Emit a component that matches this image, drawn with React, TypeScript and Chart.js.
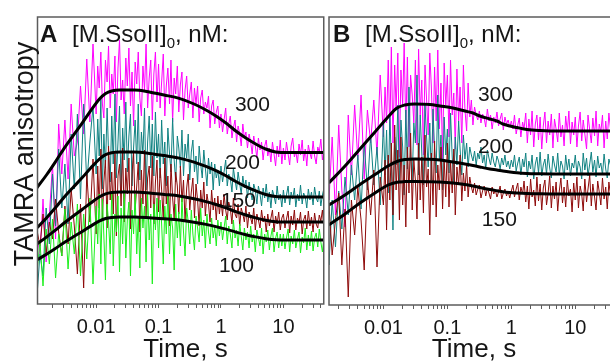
import React, { useEffect, useRef } from "react";
import { Chart, registerables } from "chart.js";

Chart.register(...registerables);

// ---------- data ----------
// time grid of the recorded traces, s
const TIME = [
  0.00112, 0.00126, 0.00141, 0.00158, 0.00178, 0.002, 0.00224, 0.00251, 0.00282, 0.00316,
  0.00355, 0.00398, 0.00447, 0.00501, 0.00562, 0.00631, 0.00708, 0.00794, 0.00891,
  0.01, 0.0106, 0.0112, 0.0119, 0.0126, 0.0133, 0.0141, 0.015, 0.0158, 0.0168,
  0.0178, 0.0188, 0.02, 0.0211, 0.0224, 0.0237, 0.0251, 0.0266, 0.0282, 0.0299,
  0.0316, 0.0335, 0.0355, 0.0376, 0.0398, 0.0422, 0.0447, 0.0473, 0.0501, 0.0531,
  0.0562, 0.0596, 0.0631, 0.0668, 0.0708, 0.075, 0.0794, 0.0841, 0.0891, 0.0944,
  0.1, 0.106, 0.112, 0.119, 0.126, 0.133, 0.141, 0.15, 0.158, 0.168,
  0.178, 0.188, 0.2, 0.211, 0.224, 0.237, 0.251, 0.266, 0.282, 0.299,
  0.316, 0.335, 0.355, 0.376, 0.398, 0.422, 0.447, 0.473, 0.501, 0.531,
  0.562, 0.596, 0.631, 0.668, 0.708, 0.75, 0.794, 0.841, 0.891, 0.944,
  1, 1.06, 1.12, 1.19, 1.26, 1.33, 1.41, 1.5, 1.58, 1.68,
  1.78, 1.88, 2, 2.11, 2.24, 2.37, 2.51, 2.66, 2.82, 2.99,
  3.16, 3.35, 3.55, 3.76, 3.98, 4.22, 4.47, 4.73, 5.01, 5.31,
  5.62, 5.96, 6.31, 6.68, 7.08, 7.5, 7.94, 8.41, 8.91, 9.44,
  10, 10.6, 11.2, 11.9, 12.6, 13.3, 14.1, 15, 15.8, 16.8,
  17.8, 18.8, 20, 21.1, 22.4, 23.7, 25.1, 26.6, 28.2, 29.9,
  31.6, 33.5, 35.5, 37.6, 39.8, 42.2, 44.7, 47.3, 50.1,
];

// TAMRA anisotropy, milli-units. Panel A
const A_300 = [
  170, 150, 205, 142, 188, 240, 165, 280, 230, 284, 225, 300, 248, 262, 318, 270, 345, 282, 360,
  290, 338, 316, 352, 300, 286, 344, 322, 358, 296,
  330, 310, 348, 282, 336, 364, 304, 324, 290, 346,
  318, 356, 298, 332, 278, 342, 320, 352, 306, 288,
  338, 314, 360, 296, 326, 344, 284, 330, 352, 302,
  340, 296, 322, 350, 288, 318, 336, 300, 344, 282,
  326, 310, 338, 292, 320, 332, 284, 314, 328, 296,
  310, 322, 286, 316, 300, 318, 282, 306, 314, 290,
  302, 296, 308, 276, 298, 304, 280, 292, 298, 276,
  290, 272, 284, 296, 270, 280, 288, 266, 276, 284,
  262, 278, 270, 258, 280, 266, 272, 256, 270, 262,
  250, 268, 258, 246, 266, 254, 262, 244, 258, 264,
  248, 256, 242, 262, 250, 238, 258, 247, 264, 240,
  256, 244, 262, 250, 239, 258, 266, 247, 253, 241,
  260, 249, 264, 243, 255, 238, 259, 251, 245, 263,
  248, 240, 257, 252, 265, 244, 256, 242, 254,
];
const A_200 = [
  105, 150, 128, 196, 160, 230, 178, 255, 196, 240, 180, 270, 215, 290, 205, 300, 220, 262, 298,
  230, 285, 248, 305, 215, 270, 236, 296, 252, 222,
  288, 240, 310, 226, 262, 298, 210, 276, 244, 302,
  232, 268, 290, 218, 256, 284, 240, 300, 224, 272,
  250, 296, 214, 262, 288, 236, 280, 228, 292, 246,
  270, 226, 284, 240, 262, 218, 276, 250, 232, 286,
  244, 222, 268, 256, 236, 274, 228, 260, 246, 270,
  224, 252, 264, 232, 248, 220, 258, 240, 226, 254,
  236, 218, 246, 230, 242, 214, 240, 226, 234, 218,
  238, 222, 232, 244, 218, 230, 226, 212, 236, 224,
  214, 232, 220, 210, 228, 216, 224, 206, 222, 212,
  204, 220, 214, 200, 218, 210, 198, 216, 206, 220,
  202, 212, 196, 214, 208, 200, 218, 204, 210, 197,
  214, 201, 209, 218, 199, 212, 205, 216, 197, 210,
  203, 219, 200, 211, 207, 196, 215, 204, 212, 199,
  217, 206, 202, 213, 198, 209, 216, 201, 208,
];
const A_150 = [
  175, 158, 190, 150, 182, 165, 205, 172, 148, 198, 160, 215, 178, 130, 200, 116, 230, 182, 245,
  170, 238, 196, 255, 185, 222, 244, 176, 258, 204,
  232, 190, 250, 168, 228, 240, 198, 256, 182, 236,
  210, 246, 175, 230, 252, 194, 218, 242, 172, 234,
  200, 254, 186, 226, 238, 196, 248, 180, 222, 244,
  192, 236, 214, 184, 246, 200, 228, 178, 240, 206,
  186, 232, 218, 190, 238, 202, 224, 182, 216, 230,
  194, 212, 226, 186, 220, 204, 178, 214, 196, 222,
  188, 210, 200, 182, 214, 194, 206, 184, 208, 190,
  204, 188, 210, 194, 184, 202, 196, 180, 206, 190,
  186, 200, 178, 196, 190, 182, 198, 176, 192, 186,
  180, 196, 174, 190, 184, 176, 194, 182, 188, 172,
  190, 178, 186, 194, 172, 188, 180, 192, 174, 186,
  190, 176, 185, 193, 171, 188, 179, 194, 174, 186,
  181, 192, 170, 184, 189, 175, 193, 178, 187, 172,
  191, 180, 176, 189, 183, 194, 173, 186, 179,
];
const A_100 = [
  130, 162, 118, 175, 140, 185, 126, 170, 148, 195, 135, 182, 150, 200, 128, 190, 145, 206, 120,
  198, 160, 210, 140, 205, 168, 124, 200, 182, 150,
  212, 138, 190, 172, 208, 132, 196, 160, 214, 146,
  184, 202, 128, 194, 170, 210, 150, 188, 136, 206,
  176, 198, 142, 212, 164, 190, 120, 200, 174, 206,
  156, 204, 180, 140, 198, 170, 210, 150, 190, 176,
  134, 200, 166, 192, 158, 206, 172, 148, 196, 182,
  160, 194, 170, 154, 188, 176, 162, 196, 168, 184,
  156, 190, 172, 160, 186, 166, 178, 158, 184, 168,
  182, 164, 176, 188, 160, 178, 170, 156, 184, 166,
  174, 158, 180, 168, 154, 176, 164, 172, 156, 178,
  162, 170, 152, 174, 166, 158, 176, 150, 170, 162,
  174, 154, 168, 176, 152, 166, 172, 156, 170, 158,
  170, 155, 166, 175, 152, 168, 160, 174, 156, 165,
  172, 151, 167, 161, 176, 154, 169, 158, 173, 153,
  166, 171, 157, 175, 162, 152, 168, 174, 159,
];

// Panel B
const B_300 = [
  200, 240, 205, 268, 190, 280, 215, 178, 290, 230, 300, 245, 310, 226, 295, 262, 305, 250, 330,
  268, 318, 282, 345, 270, 358, 262, 340, 296, 352,
  248, 335, 300, 362, 275, 348, 258, 330, 310, 282,
  345, 260, 356, 290, 325, 250, 340, 305, 270, 352,
  318, 262, 338, 284, 355, 276, 322, 246, 342, 300,
  330, 268, 345, 290, 312, 256, 336, 284, 318, 262,
  340, 296, 274, 322, 288, 305, 280, 298, 290, 285,
  294, 282, 291, 287, 278, 296, 284, 290, 276, 288,
  282, 293, 279, 286, 292, 275, 288, 281, 285, 278,
  284, 276, 290, 271, 280, 287, 268, 283, 276, 292,
  262, 286, 270, 294, 258, 281, 290, 265, 288, 256,
  279, 293, 262, 284, 270, 291, 257, 286, 276, 263,
  292, 268, 280, 259, 289, 273, 294, 261, 283, 270,
  288, 258, 279, 293, 264, 285, 271, 256, 290, 275,
  262, 287, 269, 294, 259, 281, 273, 290, 257, 284,
  266, 292, 276, 261, 288, 270, 283, 258, 279,
];
const B_200 = [
  150, 190, 140, 205, 158, 214, 176, 228, 190, 240, 205, 250, 196, 262, 215, 270, 220, 258, 200,
  282, 230, 275, 212, 290, 245, 175, 268, 240, 300,
  222, 285, 258, 210, 295, 236, 318, 248, 225, 282,
  262, 330, 230, 290, 252, 220, 300, 268, 238, 282,
  225, 296, 255, 232, 310, 244, 270, 215, 288, 250,
  276, 232, 292, 248, 222, 268, 240, 284, 256, 230,
  270, 246, 262, 238, 258, 250, 244, 254, 240, 252,
  246, 258, 242, 250, 236, 255, 247, 240, 252, 243,
  238, 249, 244, 236, 247, 240, 250, 238, 244, 236,
  245, 238, 250, 234, 242, 248, 230, 246, 238, 252,
  228, 244, 236, 250, 226, 241, 248, 232, 253, 229,
  240, 246, 231, 251, 237, 227, 249, 240, 233, 252,
  230, 244, 239, 226, 250, 235, 246, 229, 242, 237,
  250, 231, 244, 238, 226, 252, 235, 247, 229, 241,
  253, 233, 245, 228, 249, 237, 242, 230, 251, 236,
  227, 246, 240, 232, 250, 238, 244, 229, 241,
];
const B_150 = [
  190, 160, 200, 150, 185, 212, 140, 196, 108, 205, 170, 218, 185, 135, 226, 190, 235, 138, 228,
  200, 245, 175, 250, 205, 262, 190, 280, 215, 255,
  185, 268, 200, 240, 178, 258, 212, 272, 195, 245,
  225, 186, 262, 205, 248, 192, 270, 218, 236, 170,
  252, 200, 264, 188, 240, 215, 258, 196, 246, 208,
  262, 198, 244, 212, 256, 190, 238, 220, 250, 204,
  232, 214, 240, 208, 228, 218, 212, 222, 210, 216,
  220, 207, 214, 219, 209, 217, 212, 206, 218, 211,
  215, 208, 213, 219, 206, 212, 216, 209, 214, 207,
  214, 220, 208, 216, 222, 205, 218, 211, 224, 203,
  219, 196, 226, 208, 215, 199, 228, 204, 221, 195,
  217, 225, 200, 212, 229, 197, 219, 206, 223, 194,
  214, 227, 202, 218, 198, 225, 209, 216, 193, 222,
  205, 228, 197, 219, 211, 194, 226, 203, 216, 230,
  199, 221, 208, 195, 224, 213, 200, 227, 206, 218,
  196, 223, 210, 202, 229, 198, 215, 207, 220,
];

// fitted curves
const FIT_TIME_A = [
  0.00112, 0.0016, 0.0022, 0.003, 0.0042, 0.0059, 0.0082, 0.0114, 0.0142, 0.0177, 0.0237, 0.041, 0.071,
  0.123, 0.214, 0.37, 0.575, 0.83, 1.2, 1.73, 2.5, 3.6, 5.2, 7.5, 12, 50,
];
const FIT_A_300 = [216, 229, 241.7, 254.7, 267.7, 280.4, 293.3, 305.2, 310.5, 313, 314, 314, 312.1, 309, 305.6, 300, 294, 288, 281, 273, 266, 260, 255, 252.1, 251.5, 251.5];
const FIT_A_200 = [176, 186, 195.9, 206, 216.1, 225.9, 236, 245.2, 249.3, 251.2, 252, 252, 250.6, 248.4, 245.9, 241.9, 237.6, 233.3, 228.2, 222.5, 217.4, 213.1, 209.5, 207.4, 207, 207];
const FIT_A_150 = [160, 166.9, 173.6, 180.5, 187.5, 194.2, 201, 207.3, 210.1, 211.5, 212, 212, 211.1, 209.6, 208, 205.3, 202.4, 199.5, 196.2, 192.3, 189, 186.1, 183.7, 182.3, 182, 182];
const FIT_A_100 = [144, 149.7, 155.3, 161, 166.7, 172.3, 177.9, 183.1, 185.5, 186.6, 187, 187, 186.3, 185.2, 183.9, 181.8, 179.6, 177.4, 174.9, 171.9, 169.3, 167.1, 165.3, 164.2, 164, 164];

const FIT_TIME_B = [
  0.0014, 0.00251, 0.0043, 0.00738, 0.0118, 0.0163, 0.0217, 0.0311, 0.0534, 0.0765, 0.122, 0.188,
  0.251, 0.322, 0.462, 0.595, 0.738, 0.949, 1.22, 1.75, 2.79, 5.73, 50,
];
const FIT_B_300 = [222, 239, 256, 273, 288, 297, 300, 301, 300.5, 299, 297, 294, 292, 289, 286, 284, 281, 279, 277.5, 275.5, 274.5, 274, 274];
const FIT_B_200 = [200, 210, 220.5, 230.5, 239, 243.5, 245.5, 246, 245.8, 245, 243, 241, 239.5, 238, 236, 235, 234, 233, 232.2, 231.5, 231.2, 231, 231];
const FIT_B_150 = [180, 191, 202, 212, 220, 222.8, 223.4, 223.5, 223.3, 223, 222, 220.5, 219, 217.5, 215.5, 214.3, 213.3, 212.5, 212, 211.5, 211.2, 211, 211];

// axis tick labels
const TICK_VALUES = [0.01, 0.1, 1, 10];
const TICK_LABELS = ["0.01", "0.1", "1", "10"];

// concentration labels and their anchor (time, anisotropy)
const CONC_A = ["300", "200", "150", "100"];
const CONC_A_T = [1.67, 1.155, 0.997, 0.926];
const CONC_A_V = [293, 235, 197, 132];
const CONC_B = ["300", "200", "150"];
const CONC_B_T = [0.3, 0.3, 0.346];
const CONC_B_V = [304, 252, 179];

// ---------- styling / layout ----------
const FONT = '"Liberation Sans", Arial, Helvetica, sans-serif';
const TEXT = "#151515";
const C_MAG = "#ff00ff";
const C_TEAL = "#108282";
const C_RED = "#8e0a0a";
const C_GREEN = "#1cf01c";

type Trace = { values: number[]; color: string };
type Panel = {
  width: number;
  padLeft: number;
  padRight: number;
  axisHeight: number;
  xMin: number;
  xMax: number;
  yMin: number;
  yMax: number;
  traces: Trace[];
  fitTime: number[];
  fits: number[][];
  labels: string[];
  labelT: number[];
  labelV: number[];
  letter: string;
  letterX: number;
  titleX: number;
  xTitleX: number;
  yTitle: boolean;
};

const PANEL_A: Panel = {
  width: 328,
  padLeft: 37.5,
  padRight: 2.5,
  axisHeight: 57,
  xMin: 0.00115,
  xMax: 44.3,
  yMin: 100,
  yMax: 387,
  traces: [
    { values: A_100, color: C_GREEN },
    { values: A_150, color: C_RED },
    { values: A_200, color: C_TEAL },
    { values: A_300, color: C_MAG },
  ],
  fitTime: FIT_TIME_A,
  fits: [FIT_A_300, FIT_A_200, FIT_A_150, FIT_A_100],
  labels: CONC_A,
  labelT: CONC_A_T,
  labelV: CONC_A_V,
  letter: "A",
  letterX: 40,
  titleX: 72,
  xTitleX: 185.5,
  yTitle: true,
};

const PANEL_B: Panel = {
  width: 300,
  padLeft: 2,
  padRight: 4.5,
  axisHeight: 56,
  xMin: 0.00141,
  xMax: 50,
  yMin: 100,
  yMax: 388,
  traces: [
    { values: B_150, color: C_RED },
    { values: B_200, color: C_TEAL },
    { values: B_300, color: C_MAG },
  ],
  fitTime: FIT_TIME_B,
  fits: [FIT_B_300, FIT_B_200, FIT_B_150],
  labels: CONC_B,
  labelT: CONC_B_T,
  labelV: CONC_B_V,
  letter: "B",
  letterX: 6,
  titleX: 38,
  xTitleX: 147,
  yTitle: false,
};

function wholeMantissa(v: number) {
  const e = Math.floor(Math.log10(v) + 1e-9);
  const m = v / Math.pow(10, e);
  return Math.abs(m - Math.round(m)) < 1e-6;
}

function tickLabel(v: number) {
  const i = TICK_VALUES.findIndex((t) => Math.abs(t - v) / t < 1e-6);
  return i >= 0 ? TICK_LABELS[i] : "";
}

function makePlugin(p: Panel) {
  return {
    id: "panelDecor",
    afterDatasetsDraw(chart: any) {
      const { ctx, chartArea } = chart;
      const { left, top, right, bottom } = chartArea;
      ctx.save();
      ctx.strokeStyle = "#5c5c5c";
      ctx.lineWidth = 1.5;
      ctx.strokeRect(left, top, right - left, bottom - top);
      ctx.restore();
    },
    afterDraw(chart: any) {
      const { ctx } = chart;
      const xs = chart.scales.x;
      const ys = chart.scales.y;
      ctx.save();
      ctx.fillStyle = TEXT;
      ctx.textAlign = "left";
      ctx.textBaseline = "alphabetic";
      // panel letter + title
      ctx.font = `bold 24px ${FONT}`;
      ctx.fillText(p.letter, p.letterX, 42);
      let x = p.titleX;
      ctx.font = `24px ${FONT}`;
      ctx.fillText("[M.SsoII]", x, 42);
      x += ctx.measureText("[M.SsoII]").width;
      ctx.font = `15px ${FONT}`;
      ctx.fillText("0", x, 48);
      x += ctx.measureText("0").width;
      ctx.font = `24px ${FONT}`;
      ctx.fillText(", nM:", x, 42);
      // concentration labels
      ctx.font = `21px ${FONT}`;
      p.labels.forEach((s, i) => {
        ctx.fillText(s, xs.getPixelForValue(p.labelT[i]), ys.getPixelForValue(p.labelV[i]));
      });
      // axis titles
      ctx.font = `26px ${FONT}`;
      ctx.textAlign = "center";
      ctx.fillText("Time, s", p.xTitleX, 357);
      if (p.yTitle) {
        ctx.translate(33, 154);
        ctx.rotate(-Math.PI / 2);
        ctx.font = `27px ${FONT}`;
        ctx.fillText("TAMRA anisotropy", 0, 0);
      }
      ctx.restore();
    },
  };
}

function makeConfig(p: Panel): any {
  const datasets: any[] = [];
  p.fits.forEach((f) =>
    datasets.push({
      data: p.fitTime.map((t, i) => ({ x: t, y: f[i] })),
      borderColor: "#000",
      borderWidth: 3,
      pointRadius: 0,
      cubicInterpolationMode: "monotone",
      fill: false,
    })
  );
  p.traces.forEach((tr) =>
    datasets.push({
      data: TIME.map((t, i) => ({ x: t, y: tr.values[i] })),
      borderColor: tr.color,
      borderWidth: 1,
      pointRadius: 0,
      tension: 0,
      fill: false,
    })
  );
  return {
    type: "line",
    data: { datasets },
    plugins: [makePlugin(p)],
    options: {
      responsive: false,
      animation: false,
      devicePixelRatio: 1,
      events: [],
      layout: { padding: { left: p.padLeft, right: p.padRight, top: 17, bottom: 0 } },
      plugins: { legend: { display: false }, tooltip: { enabled: false }, title: { display: false } },
      scales: {
        x: {
          type: "logarithmic",
          min: p.xMin,
          max: p.xMax,
          afterBuildTicks: (s: any) => {
            s.ticks = s.ticks.filter((t: any) => wholeMantissa(t.value));
          },
          afterFit: (s: any) => {
            s.height = p.axisHeight;
          },
          ticks: {
            autoSkip: false,
            maxRotation: 0,
            minRotation: 0,
            padding: 7,
            color: TEXT,
            font: { family: FONT, size: 20 },
            callback: (v: any) => tickLabel(Number(v)),
          },
          grid: { drawOnChartArea: false, drawTicks: true, tickLength: 4, tickColor: "#5c5c5c", tickWidth: 1 },
          border: { display: false },
        },
        y: { display: false, min: p.yMin, max: p.yMax },
      },
    },
  };
}

export default function App() {
  const refA = useRef<HTMLCanvasElement>(null);
  const refB = useRef<HTMLCanvasElement>(null);
  useEffect(() => {
    const a = new Chart(refA.current as HTMLCanvasElement, makeConfig(PANEL_A));
    const b = new Chart(refB.current as HTMLCanvasElement, makeConfig(PANEL_B));
    return () => {
      a.destroy();
      b.destroy();
    };
  }, []);
  return (
    <div style={{ position: "fixed", left: 0, top: 0, width: 610, height: 361, overflow: "hidden", background: "#fff" }}>
      <canvas ref={refA} width={PANEL_A.width} height={361} style={{ position: "absolute", left: 0, top: 0, width: PANEL_A.width, height: 361 }} />
      <canvas ref={refB} width={PANEL_B.width} height={361} style={{ position: "absolute", left: 327, top: 0, width: PANEL_B.width, height: 361 }} />
    </div>
  );
}
